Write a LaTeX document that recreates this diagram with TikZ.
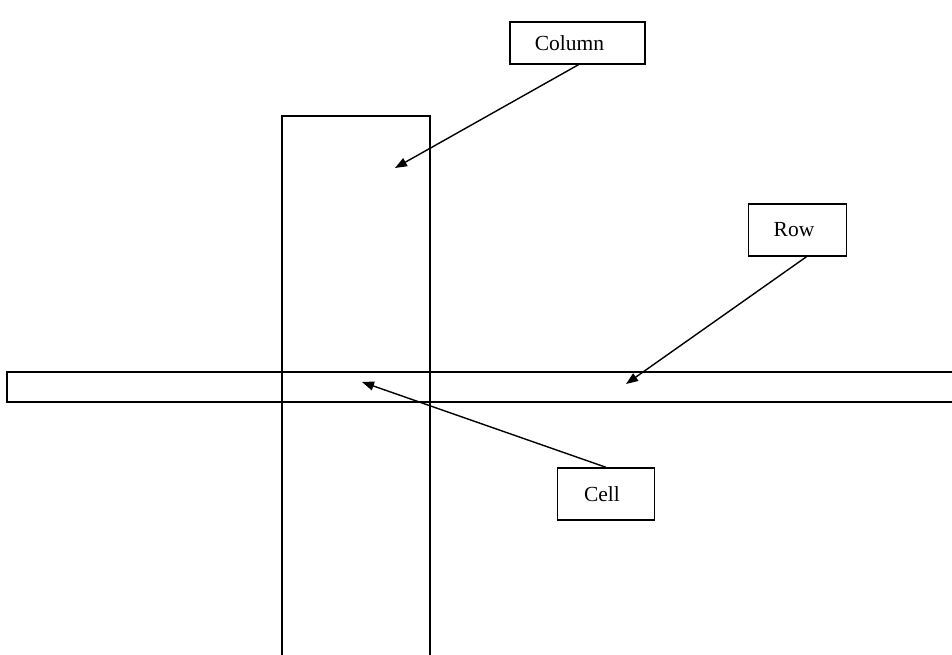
\documentclass[tikz,border=0pt]{standalone}
\usepackage{fontspec}
\setmainfont{Liberation Serif}
\usetikzlibrary{arrows.meta}
\begin{document}
\begin{tikzpicture}[x=1pt,y=-1pt,
  labelbox/.style={draw,line width=1.4pt,minimum width=#1,inner sep=0pt,font=\fontsize{21.5}{25}\selectfont},
  band/.style={draw,line width=1.4pt},
  pointer/.style={line width=1.4pt,-{Triangle[length=12pt,width=9pt]}}]
\useasboundingbox (0,0) rectangle (952,655);
\fill[white] (0,0) rectangle (952,655);
\begin{scope}
\clip (0,0) rectangle (952,655);
\draw[band] (282,116) rectangle (430,670);
\draw[band] (7,372) rectangle (970,402);
\end{scope}
\node[labelbox=135pt,minimum height=42pt] (col) at (577.5,43) {\hspace*{-16pt}Column};
\node[labelbox=98pt,minimum height=52pt] (row) at (797.5,230) {\hspace*{-7pt}Row};
\node[labelbox=97pt,minimum height=52pt] (cell) at (606,494) {\hspace*{-8pt}Cell};
\coordinate (colT) at (395,168);
\coordinate (rowT) at (626,384);
\coordinate (cellT) at (362,382);
\draw[pointer] ([xshift=1pt]col.south) -- (colT);
\draw[pointer] ([xshift=9pt]row.south) -- (rowT);
\draw[pointer] (cell.north) -- (cellT);
\end{tikzpicture}
\end{document}
